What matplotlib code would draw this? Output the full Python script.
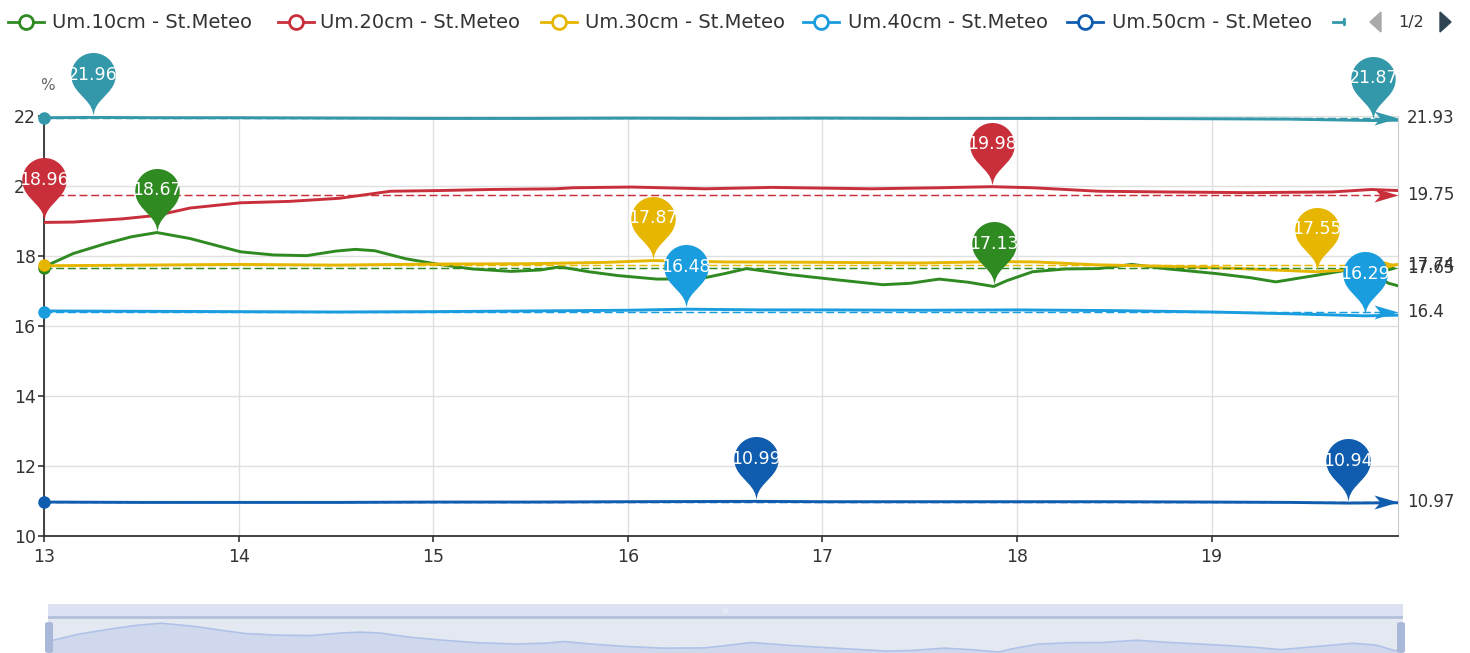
import numpy as np
import matplotlib
matplotlib.use("Agg")
import matplotlib.pyplot as plt
from matplotlib.path import Path
from matplotlib.lines import Line2D
from matplotlib.patches import Polygon, Rectangle, FancyBboxPatch, Arc

W, H, DPI = 1470, 653, 100

# ---- data ----
names = ["Um.10cm - St.Meteo", "Um.20cm - St.Meteo", "Um.30cm - St.Meteo",
         "Um.40cm - St.Meteo", "Um.50cm - St.Meteo", "Um.60cm - St.Meteo"]
colors = ["#2f8a22", "#c92f3b", "#e6b600", "#1a9ddf", "#105db0", "#3398a9"]

um10_x = [13.0, 13.15, 13.32, 13.45, 13.58, 13.75, 13.9, 14.01, 14.18, 14.35, 14.5, 14.6,
          14.7, 14.86, 15.03, 15.2, 15.4, 15.55, 15.65, 15.8, 15.95, 16.15, 16.37, 16.5,
          16.61, 16.83, 17.09, 17.31, 17.45, 17.6, 17.75, 17.88, 17.95, 18.08, 18.25, 18.42,
          18.59, 18.76, 19.02, 19.2, 19.33, 19.54, 19.7, 19.82, 19.91, 19.958]
um10_y = [17.69, 18.07, 18.36, 18.55, 18.67, 18.5, 18.28, 18.12, 18.03, 18.01, 18.14, 18.19,
          18.15, 17.92, 17.76, 17.63, 17.56, 17.6, 17.69, 17.55, 17.44, 17.34, 17.35, 17.5,
          17.64, 17.47, 17.31, 17.18, 17.22, 17.34, 17.25, 17.13, 17.3, 17.55, 17.63, 17.64,
          17.76, 17.64, 17.5, 17.38, 17.26, 17.45, 17.6, 17.5, 17.22, 17.15]

um20_x = [13.0, 13.15, 13.4, 13.58, 13.75, 14.01, 14.26, 14.52, 14.78, 15.03, 15.29, 15.63,
          15.72, 16.02, 16.4, 16.74, 17.25, 17.6, 17.87, 18.08, 18.42, 18.76, 19.19, 19.62,
          19.82, 19.958]
um20_y = [18.96, 18.97, 19.06, 19.16, 19.37, 19.52, 19.56, 19.65, 19.85, 19.87, 19.9, 19.92,
          19.95, 19.97, 19.92, 19.96, 19.92, 19.95, 19.98, 19.95, 19.85, 19.83, 19.81, 19.83,
          19.9, 19.87]

um30_x = [13.0, 13.5, 14.0, 14.5, 15.0, 15.5, 15.9, 16.13, 16.5, 17.0, 17.5, 17.9, 18.1,
          18.4, 18.8, 19.1, 19.54, 19.75, 19.958]
um30_y = [17.72, 17.74, 17.76, 17.74, 17.77, 17.78, 17.82, 17.87, 17.83, 17.82, 17.8, 17.84,
          17.83, 17.75, 17.7, 17.65, 17.55, 17.62, 17.76]

um40_x = [13.0, 13.5, 14.0, 14.5, 15.0, 15.5, 16.0, 16.3, 16.7, 17.0, 17.5, 18.0, 18.5,
          19.0, 19.4, 19.79, 19.958]
um40_y = [16.43, 16.42, 16.41, 16.4, 16.41, 16.43, 16.45, 16.48, 16.46, 16.46, 16.45, 16.46,
          16.44, 16.4, 16.35, 16.29, 16.31]

um50_x = [13.0, 13.5, 14.0, 14.5, 15.0, 15.5, 16.0, 16.66, 17.0, 17.5, 18.0, 18.5, 19.0,
          19.4, 19.7, 19.958]
um50_y = [10.97, 10.96, 10.96, 10.96, 10.97, 10.97, 10.98, 10.99, 10.98, 10.98, 10.98, 10.98,
          10.97, 10.96, 10.94, 10.95]

um60_x = [13.0, 13.25, 13.6, 14.0, 14.5, 15.0, 15.5, 16.0, 16.5, 17.0, 17.5, 18.0, 18.5,
          19.0, 19.4, 19.83, 19.958]
um60_y = [21.95, 21.96, 21.95, 21.95, 21.94, 21.93, 21.93, 21.94, 21.93, 21.94, 21.93, 21.93,
          21.93, 21.92, 21.91, 21.87, 21.88]

averages = [17.65, 19.75, 17.74, 16.4, 10.97, 21.93]
avg_labels = ["17.65", "19.75", "17.74", "16.4", "10.97", "21.93"]

series_x = [um10_x, um20_x, um30_x, um40_x, um50_x, um60_x]
series_y = [um10_y, um20_y, um30_y, um40_y, um50_y, um60_y]

X0, X1 = 13, 19.958


def fx(px):
    return px / W


def fy(py):
    return 1 - py / H


def pin_path(S=72):
    # echarts "pin" symbol, tip at origin
    w = S * 0.6
    r = w / 2
    dy = r * r / (S - r)
    c = S - r - dy
    a = np.arcsin(dy / r)
    dx = np.cos(a) * r
    tx, ty = np.sin(a), np.cos(a)
    cp1, cp2 = r * 0.6, r * 0.7
    ang = np.linspace(np.pi + a, -a, 50)
    verts = [(r * np.cos(t), c + r * np.sin(t)) for t in ang]
    codes = [Path.MOVETO] + [Path.LINETO] * (len(verts) - 1)
    verts += [(dx - tx * cp1, c - dy - ty * cp1), (0, cp2), (0, 0)]
    codes += [Path.CURVE4] * 3
    verts += [(0, cp2), (-dx + tx * cp1, c - dy - ty * cp1), (-dx, c - dy)]
    codes += [Path.CURVE4] * 3
    verts.append((0, 0))
    codes.append(Path.CLOSEPOLY)
    return Path(verts, codes), c, c + r


PIN, PIN_C, PIN_TOP = pin_path(74)
PIN_MS = 2 * PIN_TOP * 72 / DPI

AL, AW = 24, 7
ARROW = Path([(0, 0), (-AL, AW), (-0.75 * AL, 0), (-AL, -AW), (0, 0)],
             [Path.MOVETO, Path.LINETO, Path.LINETO, Path.LINETO, Path.CLOSEPOLY])
ARROW_MS = 2 * AL * 72 / DPI

fig = plt.figure(figsize=(W / DPI, H / DPI), dpi=DPI)
fig.patch.set_facecolor("white")

ax = fig.add_axes([fx(44), fy(536), (1398 - 44) / W, (536 - 116) / H])
ax.set_xlim(X0, X1)
ax.set_ylim(10, 22)
ax.set_xticks(range(13, 20))
ax.set_yticks(range(10, 23, 2))
ax.grid(True, color="#e0e0e0", lw=1.0)
ax.set_axisbelow(True)
ax.spines["top"].set_visible(False)
ax.spines["right"].set_color("#cccccc")
for s in ("left", "bottom"):
    ax.spines[s].set_color("#333333")
    ax.spines[s].set_linewidth(1.3)
ax.tick_params(colors="#333333", labelsize=12.5, length=4, width=1.2)
ax.tick_params(axis="x", pad=5)
ax.tick_params(axis="y", pad=2)

for i, (xs, ys) in enumerate(zip(series_x, series_y)):
    col = colors[i]
    ax.plot(xs, ys, color=col, lw=2.1, zorder=3 + i * 0.1, solid_joinstyle="round")

    # average mark line
    avg = averages[i]
    ax.plot([X0, X1], [avg, avg], color=col, lw=1.05, ls=(0, (5.5, 2.5)), zorder=4 + i * 0.1)
    ax.plot([X0], [avg], "o", ms=8, color=col, clip_on=False, zorder=4.05 + i * 0.1)
    ax.plot([X1], [avg], marker=ARROW, ms=ARROW_MS, color=col, mew=0, ls="none",
            clip_on=False, zorder=4.05 + i * 0.1)
    ax.annotate(avg_labels[i], xy=(X1, avg), xytext=(6.5, 0), textcoords="offset points",
                ha="left", va="center", fontsize=12, color="#333333", annotation_clip=False)

    # max / min pins
    ys_arr = np.array(ys)
    for k in (int(np.argmax(ys_arr)), int(np.argmin(ys_arr))):
        ax.plot([xs[k]], [ys[k]], marker=PIN, ms=PIN_MS, color=col, mew=0, ls="none",
                clip_on=False, zorder=10)
        ax.annotate(f"{ys[k]:.2f}", xy=(xs[k], ys[k]), xytext=(0, PIN_C * 72 / DPI),
                    textcoords="offset points", ha="center", va="center", fontsize=12.5,
                    color="white", zorder=11, annotation_clip=False)

fig.text(fx(47), fy(85), "%", fontsize=11, color="#666666", ha="center", va="center")

# ---- legend (first page) ----
ly = fy(22)
icon_cx = [26, 296, 559, 821, 1085]
text_x = [52, 320, 585, 848, 1112]
for i in range(5):
    c = icon_cx[i]
    fig.add_artist(Line2D([fx(c - 18), fx(c + 18)], [ly, ly], color=colors[i], lw=2))
    fig.add_artist(Line2D([fx(c)], [ly], marker="o", ms=10, mfc="white", mec=colors[i], mew=2))
    fig.text(fx(text_x[i]), ly, names[i], fontsize=14, color="#333333", ha="left", va="center")
# cut-off sixth item
fig.add_artist(Line2D([fx(1333), fx(1344)], [ly, ly], color=colors[5], lw=2))
fig.add_artist(Arc((fx(1351), ly), 14 / W, 14 / H, theta1=125, theta2=235,
                   color=colors[5], lw=2, transform=fig.transFigure))
# pager
fig.add_artist(Polygon([(fx(1370), fy(22)), (fx(1381), fy(12)), (fx(1381), fy(32))],
                       closed=True, color="#aaaaaa", transform=fig.transFigure))
fig.add_artist(Polygon([(fx(1440), fy(12)), (fx(1451), fy(22)), (fx(1440), fy(32))],
                       closed=True, color="#2f4554", transform=fig.transFigure))
fig.text(fx(1411), ly, "1/2", fontsize=11.5, color="#333333", ha="center", va="center")

# ---- data zoom slider ----
bg = fig.add_axes([fx(48), 0, (1403 - 48) / W, (653 - 604) / H])
bg.set_axis_off()
bg.set_xlim(0, 1)
bg.set_ylim(0, 1)
split = (653 - 617) / 49
bg.add_patch(Rectangle((0, split), 1, 1 - split, color="#dce2f2", lw=0))
bg.add_patch(Rectangle((0, 0), 1, split, color="#e4e8f1", lw=0))
bg.axhline(split, color="#b3bfdb", lw=2)
bg.text(0.5, 0.88, "|||", fontsize=4, color="white", ha="center", va="center")

mini = fig.add_axes([fx(48), 0, (1403 - 48) / W, (653 - 617) / H])
mini.set_axis_off()
mini.patch.set_alpha(0)
mini.set_xlim(X0, X1)
mini.set_ylim(17.08, 19.0)
mini.fill_between(um10_x, um10_y, 17.0, color="#d0d8ed", lw=0)
mini.plot(um10_x, um10_y, color="#b0c2e8", lw=1.2)

for hx in (45, 1397):
    fig.add_artist(FancyBboxPatch((fx(hx), 0), 8 / W, (653 - 622) / H,
                                  boxstyle="round,pad=0,rounding_size=0.003",
                                  color="#a9b8d8", lw=0, transform=fig.transFigure))

fig.savefig("out.png", dpi=DPI)
